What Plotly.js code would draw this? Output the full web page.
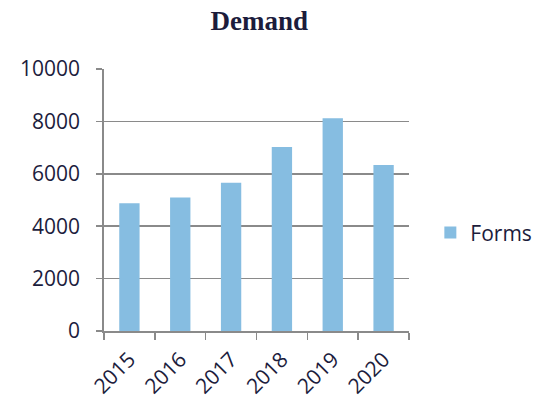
<!DOCTYPE html>
<html>
<head>
<meta charset="utf-8">
<script src="https://cdn.plot.ly/plotly-3.0.1.min.js"></script>
<style>html,body{margin:0;padding:0;background:#fff}#chart{width:546px;height:403px}</style>
</head>
<body>
<div id="chart"></div>
<script>
const years = ["2015", "2016", "2017", "2018", "2019", "2020"];
const forms = [4880, 5100, 5660, 7020, 8120, 6340];
const seriesName = "Forms";
const chartTitle = "Demand";

const textColor = "#1c1c3c";
const gridColor = "#8a8a8a";

Plotly.newPlot("chart", [{
  type: "bar",
  x: years,
  y: forms,
  name: seriesName,
  marker: {color: "#86bde1"},
  showlegend: true
}], {
  width: 546, height: 403,
  margin: {l: 104, r: 137, t: 69, b: 72, autoexpand: false},
  paper_bgcolor: "#fff", plot_bgcolor: "#fff",
  title: {text: "<b>" + chartTitle + "</b>", font: {family: "Liberation Serif, serif", size: 27, color: textColor}, x: 0.475, xanchor: "center", y: 0.95, yanchor: "middle"},
  bargap: 0.6,
  font: {family: "Open Sans, sans-serif", size: 21, color: textColor},
  xaxis: {
    type: "category",
    tickangle: -45,
    ticks: "outside", tickson: "boundaries", ticklen: 7, tickcolor: gridColor, tickwidth: 1.5,
    showline: true, linecolor: gridColor, linewidth: 1.8,
    showgrid: false,
    ticklabelstandoff: 6,
    tickfont: {size: 21, color: textColor}
  },
  yaxis: {
    range: [0, 10000], dtick: 2000, tickformat: "d",
    ticks: "outside", ticklen: 6, tickcolor: gridColor, tickwidth: 1.5,
    showline: true, linecolor: gridColor, linewidth: 1.8,
    showgrid: true, gridcolor: gridColor, gridwidth: 1.5,
    zeroline: false,
    ticklabelstandoff: 12,
    tickfont: {size: 21, color: textColor}
  },
  legend: {x: 1.07, xanchor: "left", y: 0.375, yanchor: "middle", font: {size: 21, color: textColor}, bgcolor: "rgba(0,0,0,0)"}
}, {displayModeBar: false, staticPlot: true});
</script>
</body>
</html>
